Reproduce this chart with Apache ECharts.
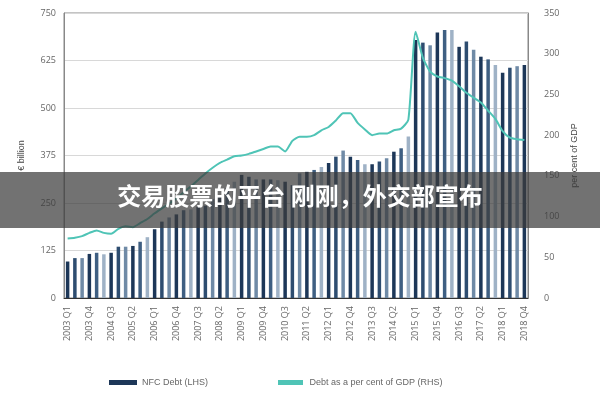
<!DOCTYPE html>
<html><head><meta charset="utf-8">
<script src="https://cdn.jsdelivr.net/npm/echarts@6/dist/echarts.min.js"></script>
<style>html,body{margin:0;background:#fff}#c{width:600px;height:400px}</style>
</head><body><div id="c"></div>
<script>
const categories = [];
for (let y = 2003; y <= 2018; y++) for (let q = 1; q <= 4; q++) categories.push(y + ' Q' + q);
const nfcDebt = [96,105,105,116,119,115,119,135,135,137,148,160,181,201,212,220,231,233,240,243,260,271,289,306,324,319,312,312,312,310,306,297,328,332,337,345,355,372,388,372,363,352,352,359,368,385,394,425,679,672,665,699,705,705,661,675,653,635,628,613,593,606,610,613];
const debtGdp = [73,74,76,80,83,80,79,85,88,87,92,97,104,110,116,122,130,137,145,153,160,166,170,174,175,177,180,183,186,186,180,193,198,198,200,206,210,218,227,227,215,207,200,202,202,206,208,219,327,295,278,272,270,267,260,252,246,240,230,220,205,197,195,194];
const shades = ['#1d3758','#2e4d70','#6f8aa6','#1d3758','#3f5f82','#9fb2c6'];
const chart = echarts.init(document.getElementById('c'));
const axLab = {color:'#666', fontSize:9, fontFamily:'Open Sans'};
chart.setOption({
  animation:false,
  grid:{left:64,right:72,top:13,bottom:102,show:true,borderColor:'#888',borderWidth:1},
  legend:{bottom:8,left:104,itemGap:70,textStyle:{color:'#666',fontSize:9},
    data:[{name:'NFC Debt (LHS)',icon:'rect',itemStyle:{color:'#1d3758'}},{name:'Debt as a per cent of GDP (RHS)',icon:'path://M0,0H10V2H0Z',itemStyle:{color:'#4fc4b6'}}],
    itemWidth:28,itemHeight:5},
  xAxis:{type:'category',data:categories,axisTick:{show:false},
    axisLine:{lineStyle:{color:'#333'}},
    axisLabel:{...axLab,rotate:90,interval:2}},
  yAxis:[
    {type:'value',min:0,max:750,interval:125,name:'€ billion',nameLocation:'middle',nameGap:38,nameRotate:90,
     nameTextStyle:{color:'#444',fontSize:9},axisLabel:axLab,
     splitLine:{lineStyle:{color:'#d8d8d8'}},axisLine:{show:true,lineStyle:{color:'#888'}}},
    {type:'value',min:0,max:350,interval:50,name:'per cent of GDP',nameLocation:'middle',nameGap:38,nameRotate:90,
     nameTextStyle:{color:'#444',fontSize:9},axisLabel:{...axLab,margin:16},
     splitLine:{show:false},axisLine:{show:true,lineStyle:{color:'#888'}}}
  ],
  series:[
    {name:'NFC Debt (LHS)',type:'bar',barWidth:3.5,itemStyle:{color:'#1d3758'},
     data:nfcDebt.map((v,i)=>({value:v,itemStyle:{color:shades[i%shades.length]}}))},
    {name:'Debt as a per cent of GDP (RHS)',type:'line',yAxisIndex:1,symbol:'none',smooth:0.2,
     lineStyle:{color:'#4fc4b6',width:2},itemStyle:{color:'#4fc4b6'},data:debtGdp}
  ],
  graphic:[
    {type:'rect',left:0,top:172,shape:{width:600,height:56},style:{fill:'rgba(60,60,60,0.72)'},z:100},
    {type:'text',left:'center',top:184,style:{text:'交易股票的平台 刚刚，外交部宣布',fill:'#fff',font:'bold 24px "Noto Sans CJK SC"'},z:101}
  ]
});
</script></body></html>
